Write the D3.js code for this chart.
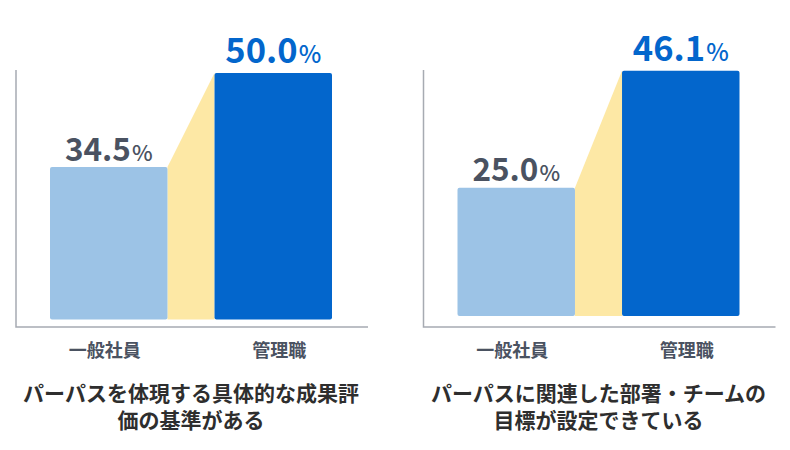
<!DOCTYPE html>
<html>
<head>
<meta charset="utf-8">
<script src="https://cdn.jsdelivr.net/npm/d3@7"></script>
<style>
  html, body { margin: 0; padding: 0; background: #fff; }
  svg { display: block; font-family: "Noto Sans CJK JP", "Noto Sans", sans-serif; }
</style>
</head>
<body>
<div id="chart"></div>
<script>
// data
const categories = ['一般社員', '管理職']
const staffValues = [34.5, 25.0]     // 一般社員
const managerValues = [50.0, 46.1]   // 管理職
const titles = [
  ['パーパスを体現する具体的な成果評', '価の基準がある'],
  ['パーパスに関連した部署・チームの', '目標が設定できている']
]

class GapBars {
  defaultSetting () {
    return {
      width: 790,
      height: 450,
      panels: [ // 各パネルの配置（軸の下限は見た目に合わせる）
        { left: 0, baseline: 319.5, top: 73, floor: 9.4 },
        { left: 407.5, baseline: 316, top: 70.7, floor: 1.9 }
      ],
      axis: { x0: 16, x1: 368, y0: 70, y1: 327, color: '#a7abb2', width: 1.5 },
      bars: { x0: 50, x1: 332, padding: 0.286 },
      color: ['#9cc3e6', '#0366cc'],
      bridge: '#fde8a5',
      value: [
        { size: 31.5, pct: 22, color: '#4a5261', gap: 6.5 },
        { size: 34.5, pct: 24, color: '#0366cc', gap: 10 }
      ],
      label: { size: 18, color: '#4a5261', y: 356.5, shift: [-4, 6] },
      title: { size: 21, color: '#2e2e2e', y: 401, lineHeight: 27 }
    }
  }
  constructor (selector, option = {}) {
    this.config = Object.assign(this.defaultSetting(), option)
    const { width, height } = this.config
    this.svg = d3.select(selector)
      .append('svg')
        .attr('width', width)
        .attr('height', height)
  }
  renderPanel (g, values, panel, title) {
    const { axis, bars, color, bridge, value, label } = this.config
    const x = d3.scaleBand()
      .domain(categories)
      .range([bars.x0, bars.x1])
      .paddingInner(bars.padding)
    const y = d3.scaleLinear()
      .domain([panel.floor, d3.max(values)])
      .range([panel.baseline, panel.top])

    // 棒の間の帯
    const xa = x(categories[0]) + x.bandwidth()
    const xb = x(categories[1])
    g.append('path')
      .attr('fill', bridge)
      .attr('d', `M${xa},${y(values[0])}L${xb},${y(values[1])}L${xb},${y.range()[0]}L${xa},${y.range()[0]}Z`)

    g.selectAll('.bar').data(values).enter()
      .append('rect')
        .attr('class', 'bar')
        .attr('x', (d, i) => x(categories[i]))
        .attr('y', d => y(d))
        .attr('width', x.bandwidth())
        .attr('height', d => y.range()[0] - y(d))
        .attr('rx', 2)
        .attr('fill', (d, i) => color[i])

    // 軸
    g.append('path')
      .attr('fill', 'none')
      .attr('stroke', axis.color)
      .attr('stroke-width', axis.width)
      .attr('d', `M${axis.x0},${axis.y0}V${axis.y1}H${axis.x1}`)

    // 値ラベル
    const vt = g.selectAll('.value').data(values).enter()
      .append('text')
        .attr('class', 'value')
        .attr('text-anchor', 'middle')
        .attr('font-weight', 700)
        .attr('x', (d, i) => x(categories[i]) + x.bandwidth() / 2)
        .attr('y', (d, i) => y(d) - value[i].gap)
        .attr('fill', (d, i) => value[i].color)
        .attr('font-size', (d, i) => value[i].size)
    vt.append('tspan').text(d => d.toFixed(1))
    vt.append('tspan')
      .attr('font-size', (d, i) => value[i].pct)
      .attr('font-weight', 500)
      .attr('dx', 1)
      .text('%')

    // カテゴリ名
    g.selectAll('.cat').data(categories).enter()
      .append('text')
        .attr('class', 'cat')
        .attr('text-anchor', 'middle')
        .attr('font-weight', 700)
        .attr('font-size', label.size)
        .attr('fill', label.color)
        .attr('x', (d, i) => x(d) + x.bandwidth() / 2 + label.shift[i])
        .attr('y', label.y)
        .text(d => d)

    // タイトル（2行を1つのtextにまとめる）
    const t = this.config.title
    const cx = (axis.x0 + axis.x1) / 2 - 1
    g.append('text')
      .attr('class', 'title')
      .attr('text-anchor', 'middle')
      .attr('font-weight', 700)
      .attr('font-size', t.size)
      .attr('fill', t.color)
      .attr('y', t.y)
      .selectAll('tspan').data(title).enter()
      .append('tspan')
        .attr('x', cx)
        .attr('dy', (d, i) => i === 0 ? 0 : t.lineHeight)
        .text(d => d)
  }
  render () {
    const { panels } = this.config
    panels.forEach((p, i) => {
      const g = this.svg.append('g')
        .attr('transform', `translate(${p.left},0)`)
      this.renderPanel(g, [staffValues[i], managerValues[i]], p, titles[i])
    })
  }
}

const chart = new GapBars('#chart')
chart.render()
</script>
</body>
</html>
